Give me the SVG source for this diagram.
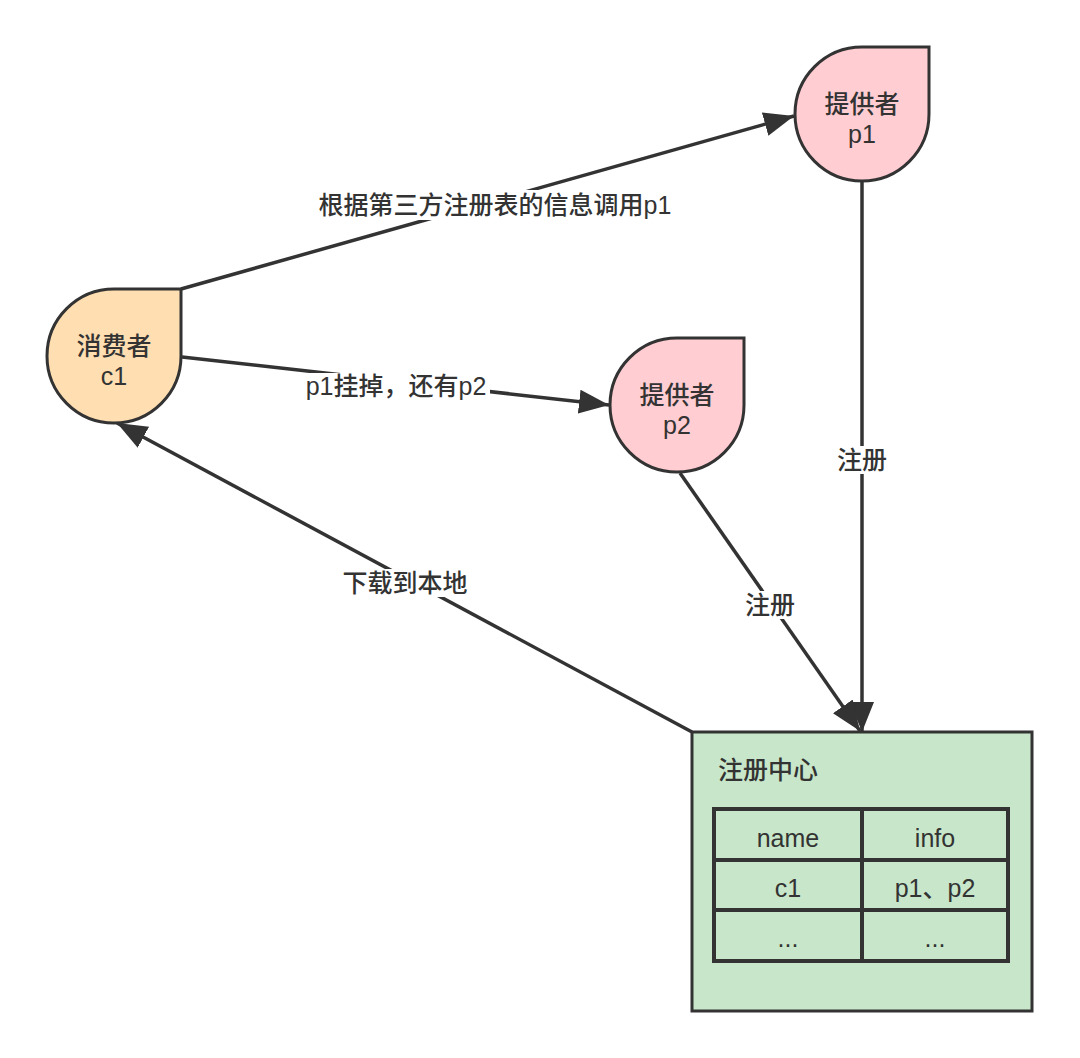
<svg xmlns="http://www.w3.org/2000/svg" width="1080" height="1058" viewBox="0 0 1080 1058">
<style>
text{font-family:"Liberation Sans","Noto Sans CJK SC",sans-serif;font-size:25px;font-weight:500;fill:#333;}
.c{text-anchor:middle;}
.edge{stroke:#333;stroke-width:3.5;fill:none;marker-end:url(#arr);}
.lbl{fill:#fff;stroke:none;}
.node{stroke:#333;stroke-width:3;}
.grid{stroke:#333;stroke-width:4;fill:none;}
</style>
<defs>
<marker id="arr" markerUnits="userSpaceOnUse" markerWidth="32" markerHeight="26" refX="30" refY="12" orient="auto">
<path d="M0,0 L30,12 L0,24 Z" fill="#333"/>
</marker>
</defs>
<rect width="1080" height="1058" fill="#fff"/>
<g id="connectors">
<line class="edge" x1="181" y1="289" x2="794" y2="116"/>
<rect class="lbl" x="308" y="190" width="374" height="30"/>
<text class="c" x="495" y="214">根据第三方注册表的信息调用p1</text>
<line class="edge" x1="182" y1="357" x2="609" y2="405"/>
<rect class="lbl" x="302" y="373" width="188" height="28"/>
<text class="c" x="396" y="395">p1挂掉，还有p2</text>
<line class="edge" x1="862" y1="182" x2="862" y2="732"/>
<rect class="lbl" x="834" y="446" width="56" height="28"/>
<text class="c" x="862" y="469">注册</text>
<line class="edge" x1="680" y1="473" x2="860" y2="731"/>
<rect class="lbl" x="742" y="591" width="56" height="28"/>
<text class="c" x="770" y="614">注册</text>
<line class="edge" x1="692" y1="732" x2="117" y2="423"/>
<rect class="lbl" x="338" y="569" width="134" height="28"/>
<text class="c" x="405" y="592">下载到本地</text>
</g>
<g id="c1">
<path class="node" fill="#ffdfb2" d="M114,289 L181,289 L181,356 A67,67 0 1 1 114,289 Z"/>
<text class="c" x="114" y="355">消费者</text>
<text class="c" x="114" y="385">c1</text>
</g>
<g id="p1">
<path class="node" fill="#ffcdd2" d="M862,47 L929,47 L929,114 A67,67 0 1 1 862,47 Z"/>
<text class="c" x="862" y="113">提供者</text>
<text class="c" x="862" y="143">p1</text>
</g>
<g id="p2">
<path class="node" fill="#ffcdd2" d="M677,338 L744,338 L744,405 A67,67 0 1 1 677,338 Z"/>
<text class="c" x="677" y="404">提供者</text>
<text class="c" x="677" y="434">p2</text>
</g>
<g id="registry">
<rect class="node" x="692" y="732" width="340" height="279" fill="#c8e6c9"/>
<text x="718" y="779">注册中心</text>
<rect class="grid" x="714" y="809" width="294" height="152"/>
<line class="grid" x1="862" y1="809" x2="862" y2="961"/>
<line class="grid" x1="714" y1="860" x2="1008" y2="860"/>
<line class="grid" x1="714" y1="910" x2="1008" y2="910"/>
<text class="c" x="788" y="847">name</text>
<text class="c" x="935" y="847">info</text>
<text class="c" x="788" y="897">c1</text>
<text class="c" x="935" y="897">p1、p2</text>
<text class="c" x="788" y="947">...</text>
<text class="c" x="935" y="947">...</text>
</g>
</svg>
